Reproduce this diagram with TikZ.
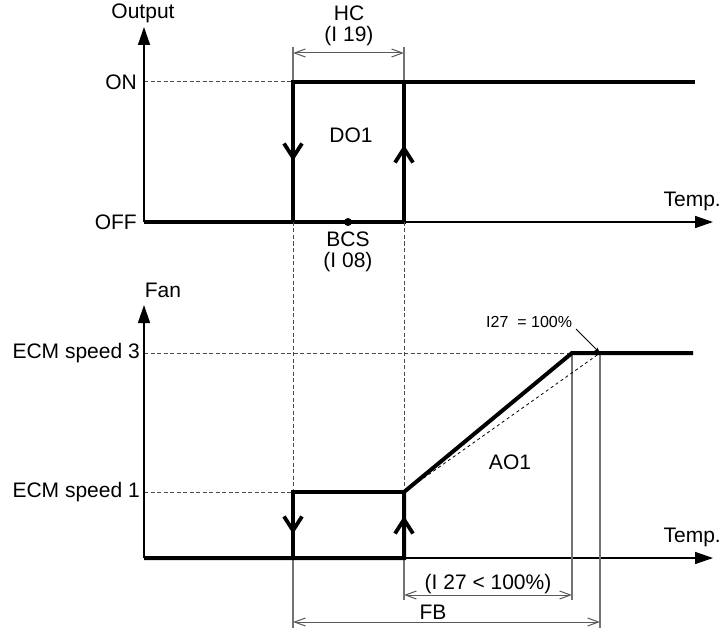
\documentclass[tikz,border=0pt]{standalone}
\usepackage{fontspec}
\setmainfont{Liberation Sans}
\usetikzlibrary{arrows.meta}
\begin{document}
\begin{tikzpicture}[x=1pt,y=-1pt,
  lbl/.style={font=\fontsize{21}{25}\selectfont, inner sep=0pt},
  small/.style={font=\fontsize{16}{19}\selectfont, inner sep=0pt},
  axis/.style={line width=1.5pt, -{Triangle[length=18pt,width=12pt]}},
  sig/.style={line width=4pt, line join=miter},
  guide/.style={dash pattern=on 4pt off 2.5pt, line width=1pt, black!70},
  ext/.style={line width=1.3pt, black!55},
  dim/.style={line width=1pt, black!65, {Straight Barb[length=11pt,width=8pt]}-{Straight Barb[length=11pt,width=8pt]}},
  flow/.style={line width=3.8pt, -{Straight Barb[length=14pt,width=18pt]}}
]
\useasboundingbox (0,0) rectangle (722,628);
% ---------- key points ----------
\coordinate (O1) at (144,222);
\coordinate (Y1) at (144,27);
\coordinate (X1) at (713,222);
\coordinate (O2) at (144,558);
\coordinate (Y2) at (144,305);
\coordinate (X2) at (713,558);
\coordinate (OnL) at (144,82);
\coordinate (A) at (293,222);
\coordinate (B) at (404,222);
\coordinate (Aon) at (293,82);
\coordinate (Bon) at (404,82);
\coordinate (OnEnd) at (695,82);
\coordinate (S1L) at (144,492);
\coordinate (S3L) at (144,353);
\coordinate (C) at (293,558);
\coordinate (D) at (404,558);
\coordinate (Cs) at (293,492);
\coordinate (Ds) at (404,492);
\coordinate (E) at (572,353);
\coordinate (F) at (600,353);
\coordinate (S3End) at (693,353);
% ---------- top panel ----------
\draw[guide] (OnL) -- (Aon);
\draw[ext] (293,47) -- (Aon);
\draw[ext] (404,47) -- (Bon);
\draw[dim] (293,53) -- (404,53);
\node[lbl] (hc) at (349,13) {HC};
\node[lbl] (hcp) at (349,36) {(I 19)};
\draw[axis] (O1) -- (Y1);
\draw[axis] (O1) -- (X1);
\node[lbl] (out) at (143,13) {Output};
\node[lbl, anchor=east] (on) at (137,82) {ON};
\node[lbl, anchor=east] (off) at (137,222) {OFF};
\node[lbl, anchor=east] (t1) at (721,201) {Temp.};
\draw[sig] (O1) -- (B) -- (Bon);
\draw[sig] (A) -- (Aon) -- (OnEnd);
\draw[flow] (293,128) -- (293,161);
\draw[flow] (404,178) -- (404,145);
\node[lbl] (do1) at (351,135) {DO1};
\fill (348,222) circle (4pt);
\node[lbl] (bcs) at (348,239) {BCS};
\node[lbl] (bcsp) at (348,262) {(I 08)};
% guides between panels
\draw[guide] (A) -- (Cs);
\draw[guide] (B) -- (Ds);
% ---------- bottom panel ----------
\draw[guide] (S3L) -- (E);
\draw[guide] (S1L) -- (Cs);
\draw[axis] (O2) -- (Y2);
\draw[axis] (O2) -- (X2);
\node[lbl] (fan) at (163,290) {Fan};
\node[lbl, anchor=east] (s3) at (140,353) {ECM speed 3};
\node[lbl, anchor=east] (s1) at (140,492) {ECM speed 1};
\node[lbl, anchor=east] (t2) at (721,537) {Temp.};
\draw[ext] (E) -- (572,600);
\draw[ext] (F) -- (600,628);
\draw[ext] (D) -- (404,600);
\draw[ext] (C) -- (293,628);
\draw[line width=0.8pt, dashed] (Ds) -- (F);
\draw[sig] (O2) -- (D) -- (Ds) -- (E) -- (S3End);
\draw[sig] (C) -- (Cs) -- (Ds);
\draw[flow] (293,500) -- (293,534);
\draw[flow] (404,550) -- (404,516);
\node[lbl] (ao1) at (510,462) {AO1};
\node[small, anchor=west] (i27) at (486,322) {I27\ \ = 100\%};
\draw[line width=0.8pt, -{Stealth[length=6pt,width=4pt]}] (576,329) -- (F);
\draw[dim] (404,595) -- (572,595);
\node[lbl] (lt) at (488,584) {(I 27 < 100\%)};
\draw[dim] (293,622) -- (600,622);
\node[lbl] (fb) at (433,612) {FB};
\end{tikzpicture}
\end{document}
